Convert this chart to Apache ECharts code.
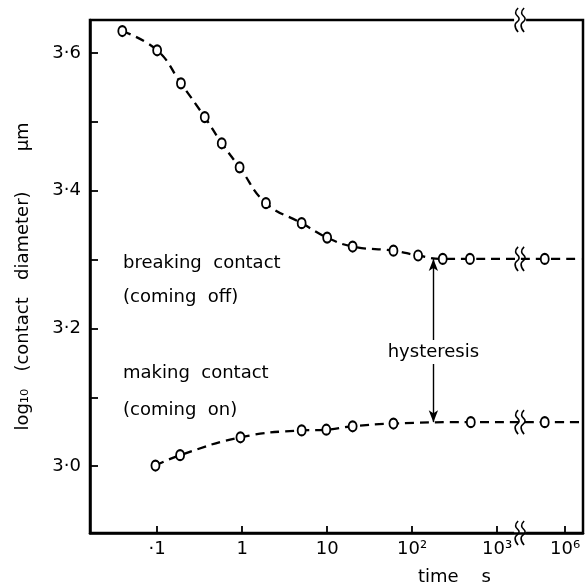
<!DOCTYPE html>
<html>
<head>
<meta charset="utf-8">
<script src="https://cdn.jsdelivr.net/npm/echarts@6/dist/echarts.min.js"></script>
<style>
html,body{margin:0;padding:0;background:#fff}
#main{width:588px;height:588px}
</style>
</head>
<body>
<div id="main"></div>
<script>
// x = log10(time / s); past the axis break the scale is squeezed, 10^6 sits at 3.8
var xTicks = [-1, 0, 1, 2, 3, 3.8];
var xTickLabels = ['·1', '1', '10', '10²', '10³', '10⁶'];
var yTicks = [3.0, 3.1, 3.2, 3.3, 3.4, 3.5, 3.6];
var yLabels = [3.0, 3.2, 3.4, 3.6];

// breaking contact (coming off)
var offX = [-1.41, -1.0, -0.72, -0.44, -0.24, -0.03, 0.28, 0.7, 1.0, 1.3, 1.78, 2.07, 2.36, 2.68, 3.56];
var offY = [3.632, 3.604, 3.556, 3.507, 3.469, 3.434, 3.382, 3.353, 3.332, 3.319, 3.313, 3.306, 3.301, 3.301, 3.301];

// making contact (coming on)
var onX = [-1.02, -0.73, -0.02, 0.7, 0.99, 1.3, 1.78, 2.69, 3.56];
var onY = [3.001, 3.016, 3.042, 3.052, 3.053, 3.058, 3.062, 3.064, 3.064];

var lineEndX = 3.99;   // dashed lines run on to the frame
var breakX = 3.27;     // where the axis is broken
var hystX = 2.25;      // hysteresis arrow
var hystLabelY = 3.166;

var xMin = -1.79, xMax = 4.01;
var yMin = 2.903, yMax = 3.648;

var font = 'DejaVu Sans';
var fs = 18;

function pts(xs, ys) {
    var d = [];
    for (var i = 0; i < xs.length; i++) {
        d.push([xs[i], ys[i]]);
    }
    d.push({value: [lineEndX, ys[ys.length - 1]], symbol: 'none'});
    return d;
}

var myChart = echarts.init(document.getElementById('main'));

var curveStyle = {
    type: 'line',
    smooth: 0.45,
    symbol: 'emptyCircle',
    symbolSize: [8, 10],
    itemStyle: {color: '#000', borderWidth: 2},
    lineStyle: {color: '#000', width: 2.3, type: [9, 6]},
    silent: true,
    z: 3
};

var option = {
    animation: false,
    grid: {left: 90, right: 5, top: 20, bottom: 55, show: true, borderColor: '#000', borderWidth: 2.5},
    xAxis: {
        type: 'value', min: xMin, max: xMax,
        splitLine: {show: false},
        axisLine: {onZero: false, lineStyle: {color: '#000', width: 2.5}},
        axisTick: {inside: true, length: 7, customValues: xTicks, lineStyle: {color: '#000', width: 1.8}},
        axisLabel: {
            customValues: xTicks, margin: 7, color: '#000', fontFamily: font, fontSize: fs,
            formatter: function (v) {
                for (var i = 0; i < xTicks.length; i++) {
                    if (Math.abs(xTicks[i] - v) < 1e-6) return xTickLabels[i];
                }
                return '';
            }
        }
    },
    yAxis: {
        type: 'value', min: yMin, max: yMax,
        splitLine: {show: false},
        axisLine: {onZero: false, lineStyle: {color: '#000', width: 2.5}},
        axisTick: {inside: true, length: 8, customValues: yTicks, lineStyle: {color: '#000', width: 1.8}},
        axisLabel: {
            customValues: yLabels, margin: 9, color: '#000', fontFamily: font, fontSize: fs,
            formatter: function (v) { return v.toFixed(1).replace('.', '·'); }
        },
        name: 'log₁₀   (contact   diameter)       μm',
        nameLocation: 'middle', nameRotate: 90, nameGap: 58,
        nameTextStyle: {color: '#000', fontFamily: font, fontSize: fs}
    },
    series: [
        echarts.util.extend({name: 'off', data: pts(offX, offY)}, curveStyle),
        echarts.util.extend({name: 'on', data: pts(onX, onY)}, curveStyle),
        {
            type: 'line', silent: true, z: 4,
            data: [],
            markLine: {
                silent: true, animation: false,
                symbol: ['arrow', 'arrow'], symbolSize: [7, 12],
                label: {show: false},
                lineStyle: {color: '#000', width: 1.4, type: 'solid'},
                data: [[{coord: [hystX, offY[offY.length - 1]]}, {coord: [hystX, onY[onY.length - 1]]}]]
            }
        }
    ]
};

myChart.setOption(option);

// annotations and the axis-break marks
function breakMark(p) {
    var wave = function (dx) {
        return {
            type: 'polyline',
            shape: {points: [[dx + 1, -12], [dx - 1.5, -7], [dx + 2, -1], [dx - 2, 5], [dx + 1, 12]], smooth: 0.5},
            style: {stroke: '#000', lineWidth: 1.6, fill: null}
        };
    };
    return {
        type: 'group', x: p[0], y: p[1], z: 20,
        children: [
            {type: 'rect', shape: {x: -6, y: -4, width: 12, height: 8}, style: {fill: '#fff'}},
            wave(-3), wave(3)
        ]
    };
}

function label(text, x, y, align, bg) {
    return {
        type: 'text', x: x, y: y, z: 20,
        style: {
            text: text, fill: '#000', font: fs + 'px "' + font + '"',
            align: align || 'left', verticalAlign: 'middle',
            backgroundColor: bg, padding: bg ? [3, 2] : 0
        }
    };
}

var breakYs = [yMax, yMin, offY[offY.length - 1], onY[onY.length - 1]];
var graphics = [];
for (var i = 0; i < breakYs.length; i++) {
    graphics.push(breakMark(myChart.convertToPixel({gridIndex: 0}, [breakX, breakYs[i]])));
}
var hp = myChart.convertToPixel({gridIndex: 0}, [hystX, hystLabelY]);
graphics.push(label('hysteresis', hp[0], hp[1], 'center', '#fff'));
graphics.push(label('breaking  contact', 123, 263));
graphics.push(label('(coming  off)', 123, 297));
graphics.push(label('making  contact', 123, 373));
graphics.push(label('(coming  on)', 123, 410));
graphics.push(label('time    s', 418, 577));

myChart.setOption({graphic: graphics});
</script>
</body>
</html>
